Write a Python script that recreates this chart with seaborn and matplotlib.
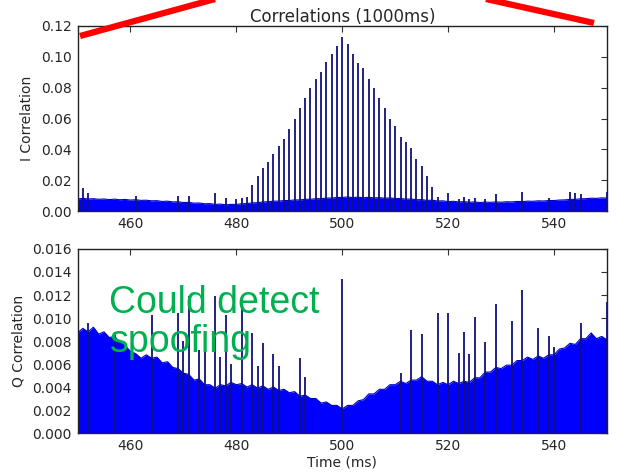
import numpy as np
import pandas as pd
import matplotlib
matplotlib.use("Agg")
import matplotlib.pyplot as plt
import seaborn as sns
from matplotlib.lines import Line2D
from matplotlib.ticker import FormatStrFormatter

# ---------------- data ----------------
time_ms = list(range(450, 551))

i_floor = [
    .0078, .0082, .0078, .0080, .0076, .0078, .0074, .0077, .0073, .0075,
    .0071, .0073, .0069, .0070, .0066, .0067, .0062, .0064, .0059, .0060,
    .0055, .0056, .0051, .0052, .0047, .0048, .0043, .0045, .0040, .0043,
    .0043, .0047, .0048, .0053, .0054, .0059, .0060, .0064, .0064, .0068,
    .0068, .0072, .0072, .0076, .0076, .0080, .0080, .0084, .0084, .0088,
    .0088, .0091, .0087, .0090, .0086, .0089, .0085, .0087, .0083, .0085,
    .0081, .0081, .0077, .0078, .0073, .0074, .0069, .0070, .0065, .0066,
    .0061, .0063, .0059, .0061, .0057, .0059, .0055, .0058, .0056, .0059,
    .0057, .0060, .0059, .0062, .0061, .0064, .0063, .0066, .0065, .0068,
    .0068, .0071, .0072, .0075, .0076, .0079, .0080, .0083, .0082, .0085,
    .0084,
]

i_spike_t = [451, 452, 461, 469, 471, 476, 478, 480, 481, 482,
             483, 484, 485, 486, 487, 488, 489, 490, 491, 492, 493, 494, 495,
             496, 497, 498, 499, 500, 501, 502, 503, 504, 505, 506, 507, 508,
             509, 510, 511, 512, 513, 514, 515, 516, 517, 518,
             520, 522, 523, 524, 525, 527, 529, 534, 539, 543, 544, 545, 550]
i_spike_v = [.0146, .0120, .0100, .0098, .0095, .0117, .0085, .0080, .0087, .0091,
             .0167, .0230, .0276, .0320, .0370, .0420, .0470, .0530, .0596, .0667,
             .0730, .0800, .0857, .0900, .0965, .1020, .1070, .1130, .1080, .1020,
             .0960, .0930, .0857, .0800, .0730, .0670, .0600, .0550, .0480, .0450,
             .0410, .0340, .0290, .0230, .0155, .0090,
             .0115, .0081, .0091, .0080, .0085, .0076, .0113, .0125, .0085, .0125,
             .0120, .0110, .0122]

q_floor = [
    .0087, .0091, .0088, .0092, .0086, .0088, .0083, .0084, .0079, .0076,
    .0071, .0069, .0065, .0068, .0065, .0066, .0061, .0062, .0057, .0056,
    .0052, .0051, .0046, .0047, .0042, .0042, .0039, .0042, .0041, .0044,
    .0042, .0043, .0040, .0042, .0039, .0041, .0038, .0040, .0037, .0038,
    .0035, .0036, .0032, .0033, .0030, .0030, .0026, .0027, .0024, .0024,
    .0021, .0024, .0024, .0028, .0029, .0034, .0034, .0038, .0038, .0042,
    .0042, .0045, .0043, .0046, .0046, .0049, .0045, .0045, .0042, .0044,
    .0042, .0045, .0043, .0045, .0044, .0048, .0048, .0053, .0053, .0057,
    .0056, .0059, .0059, .0063, .0063, .0066, .0064, .0067, .0065, .0068,
    .0068, .0073, .0074, .0078, .0077, .0082, .0082, .0087, .0082, .0084,
    .0081,
]

q_spike_t = [452, 457, 464, 469, 470, 471, 473, 474, 476, 477, 478, 479, 481,
             483, 484, 485, 487, 488, 492, 493, 500, 511, 513, 515, 518, 520,
             522, 523, 524, 525, 527, 529, 532, 534, 537, 539, 540, 545, 550]
q_spike_v = [.0096, .0088, .0103, .0104, .0080, .0119, .0072, .0088, .0119, .0066,
             .0103, .0060, .0119, .0087, .0058, .0078, .0069, .0058, .0065, .0049,
             .0134, .0052, .0090, .0086, .0104, .0104, .0070, .0088, .0069, .0101,
             .0079, .0112, .0097, .0124, .0091, .0084, .0075, .0096, .0114]

x_ticks = [460, 480, 500, 520, 540]
i_ticks = [0.00, 0.02, 0.04, 0.06, 0.08, 0.10, 0.12]
q_ticks = [0.000, 0.002, 0.004, 0.006, 0.008, 0.010, 0.012, 0.014, 0.016]

# ---------------- style ----------------
sns.set_theme(style="white")
plt.rcParams["font.family"] = ["DejaVu Sans"]

FILL = "#0000ff"
SPIKE = "#10107a"
TXT = "#262626"

fig = plt.figure(figsize=(6.24, 4.76), dpi=100)
ax1 = fig.add_axes([0.1242, 0.5567, 0.8486, 0.3887])
ax2 = fig.add_axes([0.1242, 0.0903, 0.8486, 0.3866])

df_i = pd.DataFrame({"t": time_ms, "v": i_floor})
df_q = pd.DataFrame({"t": time_ms, "v": q_floor})

for ax, df, st, sv, ticks, fmt, ylab in [
    (ax1, df_i, i_spike_t, i_spike_v, i_ticks, "%.2f", "I Correlation"),
    (ax2, df_q, q_spike_t, q_spike_v, q_ticks, "%.3f", "Q Correlation"),
]:
    ax.fill_between(df["t"], 0, df["v"], color=FILL, lw=0, zorder=2)
    sns.lineplot(data=df, x="t", y="v", ax=ax, color="#0000c8", lw=0.8, zorder=3)
    ax.vlines(st, 0, sv, color=SPIKE, lw=1.3, zorder=4)
    ax.set_xlim(450, 550)
    ax.set_ylim(ticks[0], ticks[-1])
    ax.set_xticks(x_ticks)
    ax.set_yticks(ticks)
    ax.yaxis.set_major_formatter(FormatStrFormatter(fmt))
    ax.tick_params(direction="in", top=True, right=True, length=4, width=0.8,
                   labelsize=10, labelcolor=TXT, color="#333333", pad=4)
    for sp in ax.spines.values():
        sp.set_color("#222222")
        sp.set_linewidth(1.0)
    ax.set_ylabel(ylab, fontsize=10, color=TXT, labelpad=5)
    ax.set_xlabel("")

ax1.set_title("Correlations (1000ms)", fontsize=12, color=TXT, pad=3)
ax2.set_xlabel("Time (ms)", fontsize=10, color=TXT, labelpad=2)

# annotation text
W, H = 624, 476
def fx(x):
    return x / W
def fy(y):
    return 1 - y / H

fig.text(fx(109), fy(313), "Could detect", color="#00b050", fontsize=27,
         family=["Liberation Sans", "DejaVu Sans"], va="baseline", ha="left", zorder=10)
fig.text(fx(110), fy(352), "spoofing", color="#00b050", fontsize=27,
         family=["Liberation Sans", "DejaVu Sans"], va="baseline", ha="left", zorder=10)

# red annotation lines
fig.add_artist(Line2D([fx(80), fx(215)], [fy(36), fy(-1)], transform=fig.transFigure,
                      color="#ff0000", lw=4.5, solid_capstyle="butt", zorder=20))
fig.add_artist(Line2D([fx(486), fx(594)], [fy(-1), fy(23)], transform=fig.transFigure,
                      color="#ff0000", lw=4.5, solid_capstyle="butt", zorder=20))

fig.savefig("out.png", dpi=100)
